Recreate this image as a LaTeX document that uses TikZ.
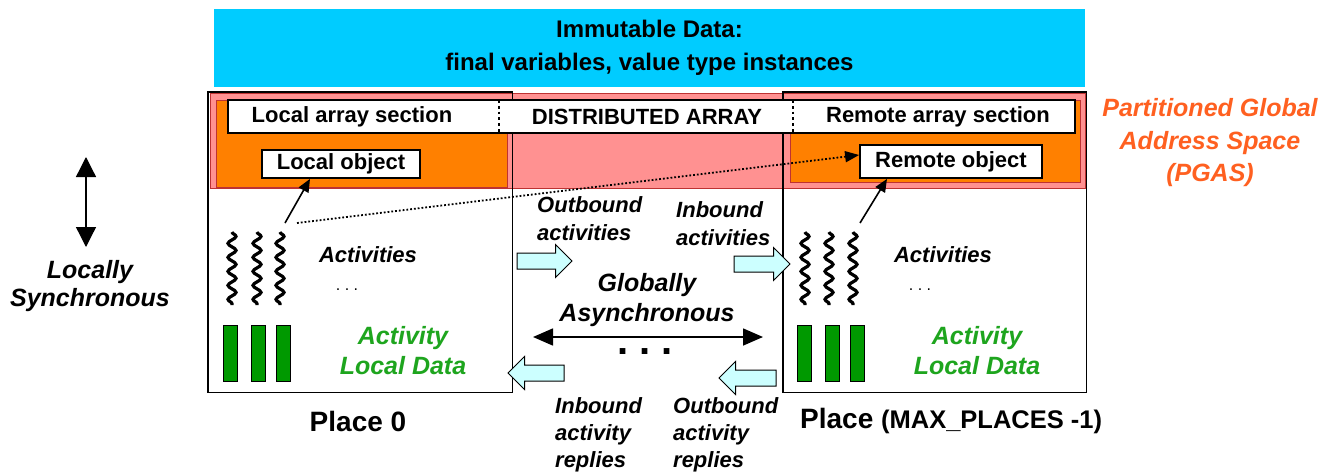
\documentclass[tikz,border=0pt]{standalone}
\usepackage{fontspec}
\setmainfont{Liberation Sans}
\usetikzlibrary{shapes.arrows, arrows.meta, decorations.pathmorphing}
\definecolor{cyanbg}{RGB}{0,204,255}
\definecolor{pinkbg}{RGB}{255,145,145}
\definecolor{pinkedge}{RGB}{190,50,50}
\definecolor{orangebg}{RGB}{255,128,0}
\definecolor{arrowfill}{RGB}{204,255,255}
\definecolor{barfill}{RGB}{0,153,0}
\definecolor{greentext}{RGB}{30,165,30}
\definecolor{pgastext}{RGB}{255,96,32}
\begin{document}
\begin{tikzpicture}[x=1pt,y=-1pt,
  txt/.style={inner sep=0pt, font=\bfseries\fontsize{22}{26}\selectfont},
  ittxt/.style={inner sep=0pt, align=left, font=\bfseries\itshape\fontsize{22}{28}\selectfont},
  bigit/.style={inner sep=0pt, align=center, font=\bfseries\itshape\fontsize{25}{30}\selectfont},
  placebox/.style={fill=white, minimum height=300pt, inner sep=0pt},
  objbox/.style={draw, line width=1.8pt, fill=white, inner sep=0pt, txt},
  bar/.style={draw, line width=1pt, fill=barfill, minimum width=14pt, minimum height=56pt, inner sep=0pt},
  squig/.style={line width=3.2pt, decorate, decoration={snake, amplitude=4pt, segment length=14pt}},
  blockarrow/.style={single arrow, draw, line width=1pt, fill=arrowfill, inner xsep=0pt, inner ysep=7.5pt,
     single arrow head extend=8.5pt, single arrow head indent=0pt},
  sep/.style={line width=2.8pt, dash pattern=on 2.8pt off 3pt}
]
\useasboundingbox (0,0) rectangle (1342,474);

% immutable data
\node[fill=cyanbg, minimum width=871pt, minimum height=78pt, inner sep=0pt, align=center,
  font=\bfseries\fontsize{24}{33}\selectfont] (immut) at (649.5,47.5)
  {Immutable Data:\\final variables, value type instances};

% places
\node[placebox, minimum width=304pt] (p0) at (360,242) {};
\node[placebox, minimum width=303pt] (pn) at (934.5,242) {};

% PGAS band
\node[fill=pinkbg, draw=pinkedge, line width=0.6pt, minimum width=875pt, minimum height=95pt, inner sep=0pt] (band) at (647.5,140.5) {};
\node[fill=orangebg, draw=pinkedge, line width=0.6pt, minimum width=291pt, minimum height=87pt, inner sep=0pt] (or0) at (361.5,143.5) {};
\node[fill=orangebg, draw=pinkedge, line width=0.6pt, minimum width=290pt, minimum height=82pt, inner sep=0pt] (orn) at (935,141) {};

% place outlines on top
\draw[line width=1.4pt] (p0.north west) rectangle (p0.south east);
\draw[line width=1.4pt] (pn.north west) rectangle (pn.south east);

% array strip
\node[draw, line width=1.6pt, fill=white, minimum width=847pt, minimum height=33pt, inner sep=0pt] (strip) at (651.5,116.5) {};
\coordinate (sepA) at (499,100); \coordinate (sepAb) at (499,133);
\coordinate (sepB) at (793,100); \coordinate (sepBb) at (793,133);
\draw[sep] (sepA) -- (sepAb);
\draw[sep] (sepB) -- (sepBb);
\node[txt] (las) at (352,117) {Local array section};
\node[txt] (da) at (647,117) {DISTRIBUTED ARRAY};
\node[txt] (ras) at (938,117) {Remote array section};

% objects
\node[objbox, minimum width=158pt, minimum height=28pt] (lobj) at (341,164) {Local object};
\node[objbox, minimum width=182pt, minimum height=33pt] (robj) at (951,161.5) {Remote object};

% activities place 0
\coordinate (q0at) at (232,232); \coordinate (q0ab) at (232,305);
\coordinate (q0bt) at (257,232); \coordinate (q0bb) at (257,305);
\coordinate (q0ct) at (280,232); \coordinate (q0cb) at (280,305);
\draw[squig] (q0at) -- (q0ab);
\draw[squig] (q0bt) -- (q0bb);
\draw[squig] (q0ct) -- (q0cb);
\coordinate (a0) at (285,223);
\coordinate (d0) at (297,223);
\draw[line width=1.6pt, -{Triangle[length=13pt,width=11pt]}] (a0) -- (lobj.south -| 310,0);

% activities place n
\coordinate (qnat) at (805,232); \coordinate (qnab) at (805,305);
\coordinate (qnbt) at (829,232); \coordinate (qnbb) at (829,305);
\coordinate (qnct) at (853,232); \coordinate (qncb) at (853,305);
\draw[squig] (qnat) -- (qnab);
\draw[squig] (qnbt) -- (qnbb);
\draw[squig] (qnct) -- (qncb);
\coordinate (an) at (860,223);
\draw[line width=1.6pt, -{Triangle[length=13pt,width=11pt]}] (an) -- (robj.south -| 887,0);

% remote reference
\draw[line width=1.8pt, dotted, -{Triangle[length=14pt,width=11pt]}] (d0) -- (robj.west |- 0,155);

% bars
\node[bar] (b0a) at (230,353) {};
\node[bar] (b0b) at (258.5,353) {};
\node[bar] (b0c) at (283,353) {};
\node[bar] (bna) at (804.5,353) {};
\node[bar] (bnb) at (832.5,353) {};
\node[bar] (bnc) at (857,353) {};

% labels inside places
\node[ittxt] (act0) at (368,255) {Activities};
\node[inner sep=0pt, font=\fontsize{16}{18}\selectfont] (dots0) at (347,290) {.\ .\ .};
\node[bigit, text=greentext] (ald0) at (403,351) {Activity\\Local Data};
\node[ittxt] (actn) at (943,255) {Activities};
\node[inner sep=0pt, font=\fontsize{16}{18}\selectfont] (dotsn) at (920,290) {.\ .\ .};
\node[bigit, text=greentext] (aldn) at (977,351) {Activity\\Local Data};

% block arrows
\node[blockarrow, minimum height=55pt] (outact) at (540.5,261) {};
\node[blockarrow, minimum height=56pt] (inact) at (758,264) {};
\node[blockarrow, minimum height=56pt, shape border rotate=180] (inrep) at (540,373) {};
\node[blockarrow, minimum height=57pt, shape border rotate=180] (outrep) at (751.5,378) {};

\node[ittxt, anchor=west] (outactl) at (537,219) {Outbound\\activities};
\node[ittxt, anchor=west] (inactl) at (676,224) {Inbound\\activities};
\node[ittxt, anchor=west, font=\bfseries\itshape\fontsize{22}{27}\selectfont] (inrepl) at (555,435) {Inbound\\activity\\replies};
\node[ittxt, anchor=west, font=\bfseries\itshape\fontsize{22}{27}\selectfont] (outrepl) at (673,435) {Outbound\\activity\\replies};

% globally asynchronous
\node[bigit] (ga) at (647,300) {Globally\\Asynchronous};
\coordinate (gal) at (533,337); \coordinate (gar) at (763,337);
\draw[line width=1.6pt, {Triangle[length=20pt,width=17pt]}-{Triangle[length=20pt,width=17pt]}] (gal) -- (gar);
\node[inner sep=0pt, font=\bfseries\fontsize{40}{40}\selectfont] (bigdots) at (645,352) {.\ .\ .};

% place labels
\node[inner sep=0pt, font=\bfseries\fontsize{28}{32}\selectfont] (pl0) at (358,421) {Place 0};
\node[inner sep=0pt, anchor=west, font=\bfseries\fontsize{28}{32}\selectfont] (pln) at (800,421) {Place {\fontsize{25.5}{28}\selectfont(MAX\_PLACES -1)}};

% locally synchronous
\coordinate (lst) at (86,157); \coordinate (lsb) at (86,247);
\draw[line width=1.3pt, {Triangle[length=20pt,width=20pt]}-{Triangle[length=20pt,width=20pt]}] (lst) -- (lsb);
\node[inner sep=0pt, align=center, font=\bfseries\itshape\fontsize{25}{28}\selectfont] (ls) at (90,286) {Locally\\Synchronous};

% PGAS
\node[inner sep=0pt, align=center, text=pgastext, font=\bfseries\itshape\fontsize{25}{32.5}\selectfont] (pgas) at (1210,143) {Partitioned Global\\Address Space\\(PGAS)};
\end{tikzpicture}
\end{document}
